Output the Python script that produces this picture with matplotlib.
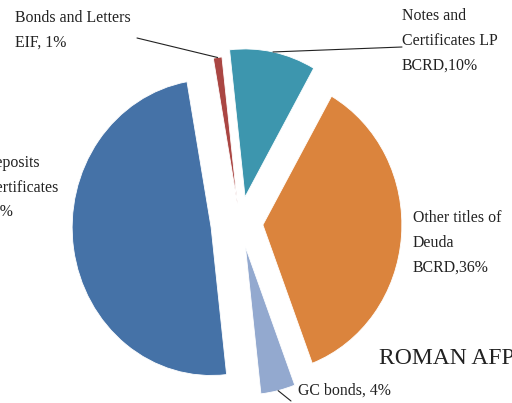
import numpy as np
import matplotlib
matplotlib.use("Agg")
import matplotlib.pyplot as plt

plt.rcParams['font.family'] = ['Liberation Serif', 'DejaVu Serif']

# Portfolio shares, clockwise from the top
labels = ['Bonds and Letters\nEIF, 1%',
          'Notes and\nCertificates LP\nBCRD,10%',
          'Other titles of\nDeuda\nBCRD,36%',
          'GC bonds, 4%',
          'Deposits\nCertificates\n49%']
shares = [1, 10, 36, 4, 49]
colors = ['#AA4643', '#3D96AE', '#DB843D', '#93A9CF', '#4572A7']
explode = [0.13, 0.18, 0.165, 0.165, 0.21]

W, H = 512, 403
fig = plt.figure(figsize=(W / 100, H / 100), dpi=100)
ax = fig.add_axes([0, 0, 1, 1])

wedges, _ = ax.pie(shares, colors=colors, explode=explode, startangle=100,
                   counterclock=False,
                   wedgeprops=dict(edgecolor='white', linewidth=0.6))
ax.set_aspect('auto')
ax.set_xlim(-1.727, 1.957)
ax.set_ylim(-1.216, 1.507)
ax.axis('off')


def edge_point(w, r=1.0):
    ang = np.deg2rad((w.theta1 + w.theta2) / 2)
    cx, cy = w.center
    return cx + r * w.r * np.cos(ang), cy + r * w.r * np.sin(ang)


txt = dict(fontsize=11.4, color='#222222', linespacing=1.72, va='top', ha='left')

# label positions in pixels from the top-left corner
label_pos = [(15, 10), (402, 8), (413, 210), (298, 383), (-15, 155)]
for lab, (px, py) in zip(labels, label_pos):
    fig.text(px / W, 1 - py / H, lab, **txt)

# leader lines from the text to the slice
leaders = {0: (137, 38), 1: (402, 47), 3: (291, 401)}
line = dict(arrowstyle='-', color='#222222', lw=0.8, shrinkA=0, shrinkB=0)
for i, (px, py) in leaders.items():
    ax.annotate('', xy=edge_point(wedges[i]), xytext=(px, H - py),
                textcoords='figure pixels', arrowprops=line)

fig.text(379 / W, 1 - 359 / H, 'ROMAN AFP', fontsize=17, color='#222222',
         ha='left', va='center')

fig.savefig('out.png', dpi=100)
